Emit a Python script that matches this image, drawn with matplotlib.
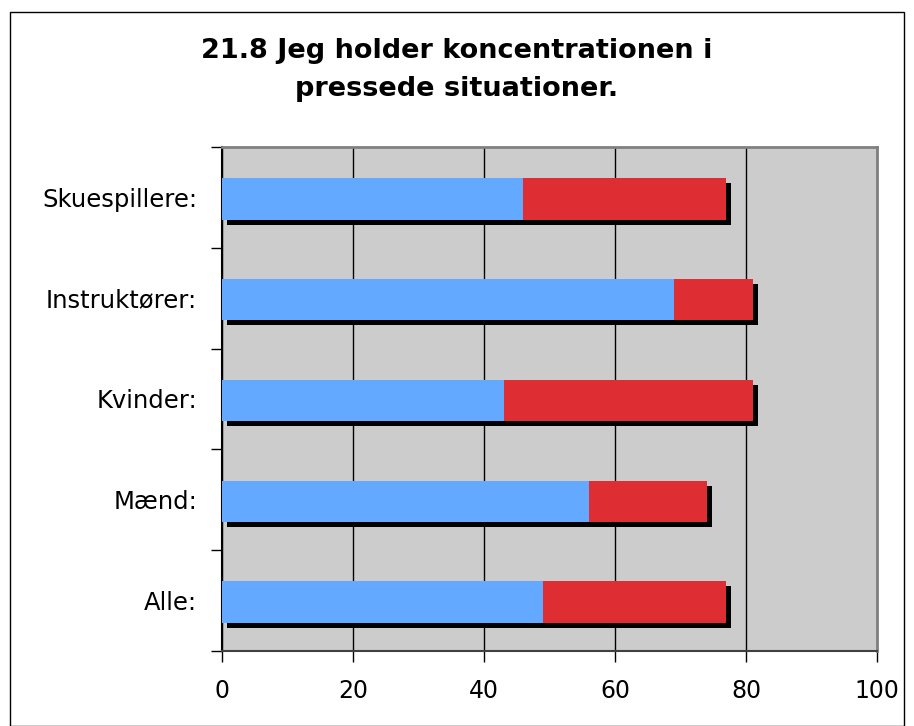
import matplotlib.pyplot as plt
import matplotlib.transforms as mtransforms
from matplotlib.patches import Rectangle

# data (bottom to top)
categories = ["Alle:", "Mænd:", "Kvinder:", "Instruktører:", "Skuespillere:"]
blue_vals = [49, 56, 43, 69, 46]
red_vals = [28, 18, 38, 12, 31]
x_ticks = [0, 20, 40, 60, 80, 100]
title = "21.8 Jeg holder koncentrationen i\npressede situationer."

totals = [b + r for b, r in zip(blue_vals, red_vals)]
ypos = list(range(len(categories)))

fig = plt.figure(figsize=(9.14, 7.26), dpi=100)
ax = fig.add_axes([222 / 914, 75 / 726, 655 / 914, 504 / 726])
ax.set_facecolor("#cccccc")

# bars sit ~1.5px below band centre; shadow a further 5px right/down
bar_tr = mtransforms.offset_copy(ax.transData, fig=fig, x=0, y=-1.5, units="dots")
shadow = mtransforms.offset_copy(ax.transData, fig=fig, x=5, y=-6.5, units="dots")
ax.barh(ypos, totals, height=0.41, color="black", transform=shadow, zorder=2)
ax.barh(ypos, blue_vals, height=0.41, color="#62a9ff", transform=bar_tr, zorder=3)
ax.barh(ypos, red_vals, left=blue_vals, height=0.41, color="#de2d33", transform=bar_tr, zorder=3)

ax.set_xlim(0, 100)
ax.set_ylim(-0.5, len(categories) - 0.5)
ax.set_xticks(x_ticks)
ax.set_xticklabels([str(t) for t in x_ticks], fontsize=17)
ax.xaxis.grid(True, color="black", linewidth=1)
ax.set_axisbelow(True)

ax.set_yticks(ypos)
ax.set_yticklabels(categories, fontsize=17.5)
ax.set_yticks([y - 0.5 for y in range(len(categories) + 1)], minor=True)
ax.tick_params(axis="y", which="major", length=0, pad=18)
ax.tick_params(axis="y", which="minor", length=8, width=1, color="black")
ax.tick_params(axis="x", length=8, width=1, pad=12)

for s in ["top", "right"]:
    ax.spines[s].set_color("#808080")
    ax.spines[s].set_linewidth(2)
ax.spines["left"].set_color("black")
ax.spines["left"].set_linewidth(1.5)
ax.spines["bottom"].set_color("#404040")
ax.spines["bottom"].set_linewidth(1.5)

fig.text(457 / 914, 1 - 70 / 726, title, ha="center", va="center",
         fontsize=19.5, fontweight="bold", linespacing=1.6)

fig.patches.append(Rectangle((10 / 914, 0), 894 / 914, 714 / 726, transform=fig.transFigure,
                             fill=False, edgecolor="black", linewidth=1))

fig.savefig("out.png", dpi=100)
